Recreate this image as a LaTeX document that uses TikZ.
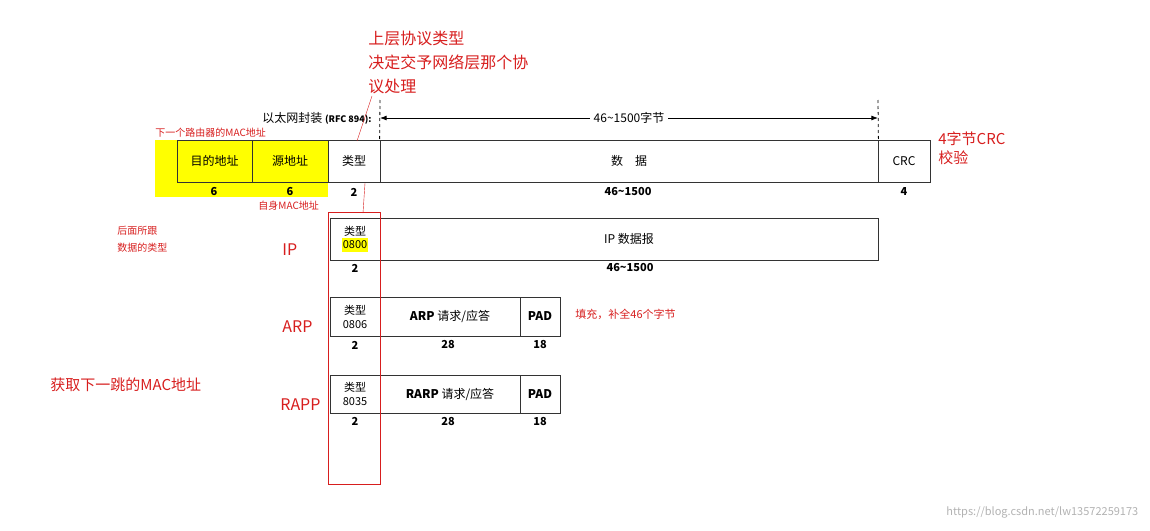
\documentclass[tikz,border=0pt]{standalone}
\usepackage{fontspec}
\setmainfont{Noto Sans CJK SC}
\usetikzlibrary{arrows.meta}
\definecolor{note}{RGB}{215,30,30}
\definecolor{surligne}{RGB}{255,255,0}
\begin{document}
\begin{tikzpicture}[x=1pt, y=-1pt, thick]
\tikzstyle{champ} = [draw=black!80, inner sep=0pt, font=\fontsize{12}{13}\selectfont, align=center]
\tikzstyle{typebox} = [champ, font=\fontsize{11}{12}\selectfont]
\tikzstyle{taille} = [font=\bfseries\fontsize{11}{12}\selectfont, inner sep=1pt]
\tikzstyle{rouge} = [text=note, font=\fontsize{11}{13}\selectfont, align=left, anchor=west, inner sep=0pt]
\tikzstyle{grand} = [text=note, font=\fontsize{16}{24}\selectfont, align=left, anchor=west, inner sep=0pt]
\useasboundingbox (0,0) rectangle (1150,530);
\fill[surligne] (155,140) rectangle (328,197);
% trame Ethernet
\node[champ, minimum width=75, minimum height=42] (dst) at (214.5,161) {目的地址};
\node[champ, minimum width=76, minimum height=42] (src) at (290,161) {源地址};
\node[champ, minimum width=52, minimum height=42] (typ) at (354,161) {类型};
\node[champ, minimum width=498, minimum height=42] (data) at (629,161) {数\quad 据};
\node[champ, minimum width=52, minimum height=42] (crc) at (904,161) {CRC};
\node[taille] at (214,192) {6};
\node[taille] at (290,192) {6};
\node[taille] at (354,192) {2};
\node[taille] at (628,192) {46\textasciitilde1500};
\node[taille] at (904,192) {4};
\node[font=\fontsize{12}{13}\selectfont, anchor=east, inner sep=0pt] (titre) at (372,118) {以太网封装 \bfseries\fontsize{9}{10}\selectfont(RFC 894):};
\coordinate (g) at (380,100);
\coordinate (d) at (878,100);
\draw[dashed] (g) -- (data.north west);
\draw[dashed] (d) -- (data.north east);
\draw[{Latex}-{Latex}] (380,118) -- (878,118) node[midway, fill=white, font=\fontsize{12}{13}\selectfont] {46\textasciitilde1500字节};
% IP
\node[typebox, minimum width=50, minimum height=42] (ipt) at (355,239) {类型\\[1pt]\colorbox{surligne}{\kern-2pt0800\kern-2pt}};
\node[champ, minimum width=498, minimum height=42] (ipd) at (629,239) {IP 数据报};
\node[taille] at (355,268) {2};
\node[taille] at (630,268) {46\textasciitilde1500};
% ARP
\node[typebox, minimum width=50, minimum height=39] (arpt) at (355,316.5) {类型\\[2pt]0806};
\node[champ, minimum width=140, minimum height=39] (arpd) at (450,316.5) {\textbf{ARP} 请求/应答};
\node[champ, minimum width=40, minimum height=39] (arpp) at (540,316.5) {\textbf{PAD}};
\node[taille] at (355,345) {2};
\node[taille] at (448,345) {28};
\node[taille] at (540,345) {18};
% RARP
\node[typebox, minimum width=50, minimum height=38] (rarpt) at (355,394) {类型\\[2pt]8035};
\node[champ, minimum width=140, minimum height=38] (rarpd) at (450,394) {\textbf{RARP} 请求/应答};
\node[champ, minimum width=40, minimum height=38] (rarpp) at (540,394) {\textbf{PAD}};
\node[taille] at (355,421) {2};
\node[taille] at (448,421) {28};
\node[taille] at (540,421) {18};
% notes
\draw[note, thin] (328,212) rectangle (380,484);
\coordinate (h) at (372,96);
\draw[note, thin] (h) -- (357,141);
\draw[note, thin] (365,183) -- (363,213);
\node[grand] (n1) at (368,62) {上层协议类型\\决定交予网络层那个协\\议处理};
\node[rouge, font=\fontsize{10}{12}\selectfont] (n2) at (155,133) {下一个路由器的MAC地址};
\node[rouge, font=\fontsize{10}{12}\selectfont] (n3) at (258,206) {自身MAC地址};
\node[rouge, font=\fontsize{10}{17}\selectfont] (n4) at (117,239) {后面所跟\\数据的类型};
\node[grand, font=\fontsize{15}{19}\selectfont] (n5) at (938,148) {4字节CRC\\校验};
\node[grand] (lip) at (282,250) {IP};
\node[grand] (larp) at (282,327) {ARP};
\node[grand] (lrarp) at (280,405) {RAPP};
\node[rouge] (n6) at (575,314) {填充，补全46个字节};
\node[grand, font=\fontsize{15}{16}\selectfont] (n7) at (50,385) {获取下一跳的MAC地址};
\node[anchor=east, text=black!30, font=\fontsize{11}{12}\selectfont] (wm) at (1142,512) {https://blog.csdn.net/lw13572259173};
\end{tikzpicture}
\end{document}
